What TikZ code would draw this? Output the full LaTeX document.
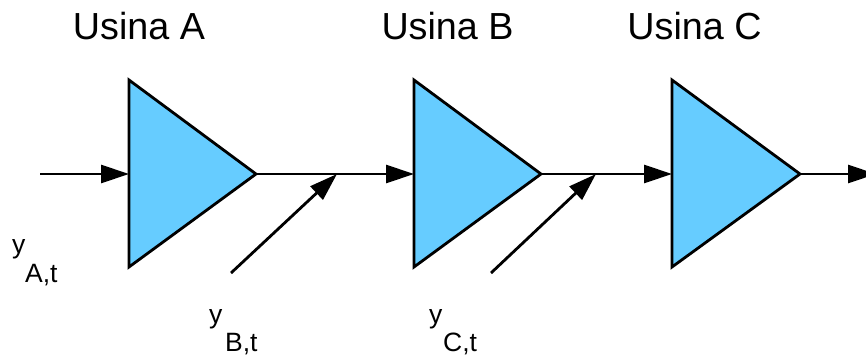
\documentclass[tikz,border=0pt]{standalone}
\usepackage{fontspec}
\setmainfont{Liberation Sans}
\usetikzlibrary{arrows.meta}
\definecolor{tri}{HTML}{66CCFF}
\begin{document}
\begin{tikzpicture}[x=1pt,y=-1pt,
  usina/.style={draw=black,fill=tri,line width=2.8pt,line join=miter},
  flow/.style={line width=2.8pt,-{Triangle[length=28pt,width=18pt]}},
  title/.style={anchor=base,inner sep=0pt,font=\fontsize{37.7}{40}\selectfont},
  lab/.style={anchor=base west,inner sep=0pt,font=\fontsize{26.5}{28}\selectfont}]
\clip (0,0) rectangle (866,356);
% triangles
\coordinate (Ain) at (129,174);
\coordinate (Aout) at (256,174);
\coordinate (Bin) at (414,174);
\coordinate (Bout) at (541,174);
\coordinate (Cin) at (672,174);
\coordinate (Cout) at (800,174);
\draw[usina] (129,80) -- (Aout) -- (129,267) -- cycle;
\draw[usina] (414,80) -- (Bout) -- (414,267) -- cycle;
\draw[usina] (672,80) -- (Cout) -- (672,267) -- cycle;
\coordinate (start) at (40,174);
\coordinate (end) at (876,174);
\coordinate (jB) at (337,174);
\coordinate (jC) at (596,174);
\coordinate (sB) at (231,273);
\coordinate (sC) at (491,273);
\draw[flow] (start) -- (Ain);
\draw[flow] (Aout) -- (Bin);
\draw[flow] (Bout) -- (Cin);
\draw[flow] (Cout) -- (end);
\draw[flow] (sB) -- (jB);
\draw[flow] (sC) -- (jC);
% titles
\node[title] (tA) at (139,39) {Usina A};
\node[title] (tB) at (447.5,39) {Usina B};
\node[title] (tC) at (694.5,39) {Usina C};
% labels
\node[lab] (yA) at (12,253) {y};
\node[lab] (iA) at (25,282) {A,t};
\node[lab] (yB) at (209,323) {y};
\node[lab] (iB) at (225,351) {B,t};
\node[lab] (yC) at (429,323) {y};
\node[lab] (iC) at (443,351) {C,t};
\end{tikzpicture}
\end{document}
